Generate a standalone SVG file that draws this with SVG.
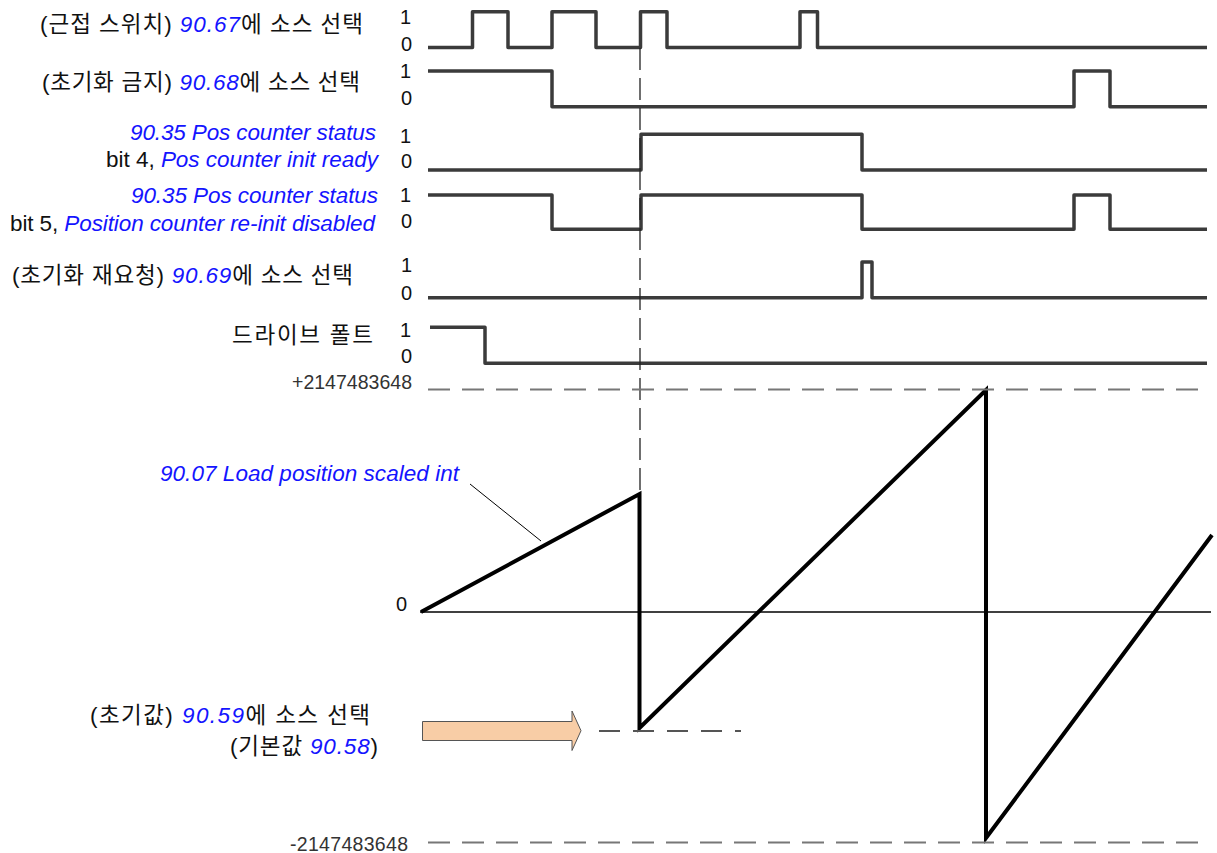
<svg xmlns="http://www.w3.org/2000/svg" width="1217" height="853" viewBox="0 0 1217 853">
<style>
text{font-family:"Liberation Sans","Noto Sans CJK KR",sans-serif;font-size:22.5px;fill:#111}
.b{fill:#1414ff;font-style:italic}
.lv{font-size:20px;fill:#111}
.num{font-size:19.5px;fill:#333}
.wave{fill:none;stroke:#3b3b3b;stroke-width:3.5;stroke-linejoin:round}
.saw{fill:none;stroke:#000;stroke-width:4;stroke-linejoin:miter}
.dash{fill:none;stroke:#777;stroke-width:2;stroke-dasharray:22 12}
</style>
<rect width="1217" height="853" fill="#fff"/>
<g id="sig-proximity">
<text x="40" y="32" textLength="323" lengthAdjust="spacing">(근접 스위치) <tspan class="b">90.67</tspan>에 소스 선택</text>
<text class="lv" x="400" y="24">1</text><text class="lv" x="401" y="51">0</text>
<path class="wave" d="M428,47.5 H472.5 V11.7 H508 V47.5 H552 V11.7 H596 V47.5 H640.5 V11.7 H667 V47.5 H800 V11.7 H817.5 V47.5 H1207"/>
</g>
<g id="sig-inhibit">
<text x="42" y="90" textLength="318" lengthAdjust="spacing">(초기화 금지) <tspan class="b">90.68</tspan>에 소스 선택</text>
<text class="lv" x="400" y="78">1</text><text class="lv" x="401" y="105">0</text>
<path class="wave" d="M428,71 H552 V106.7 H1074 V71 H1110 V106.7 H1207"/>
</g>
<g id="sig-bit4">
<text class="b" x="130" y="140" textLength="246" lengthAdjust="spacing">90.35 Pos counter status</text>
<text x="106" y="167" textLength="272" lengthAdjust="spacing">bit 4, <tspan class="b">Pos counter init ready</tspan></text>
<text class="lv" x="400" y="143">1</text><text class="lv" x="401" y="168">0</text>
<path class="wave" d="M428,170 H641 V134.3 H862 V170 H1207"/>
</g>
<g id="sig-bit5">
<text class="b" x="131" y="203" textLength="247" lengthAdjust="spacing">90.35 Pos counter status</text>
<text x="10" y="231" textLength="365" lengthAdjust="spacing">bit 5, <tspan class="b">Position counter re-init disabled</tspan></text>
<text class="lv" x="400" y="202">1</text><text class="lv" x="401" y="228">0</text>
<path class="wave" d="M428,195 H552 V229.3 H641 V195 H862 V229.3 H1074 V195 H1110 V229.3 H1207"/>
</g>
<g id="sig-reinit">
<text x="12" y="283" textLength="341" lengthAdjust="spacing">(초기화 재요청) <tspan class="b">90.69</tspan>에 소스 선택</text>
<text class="lv" x="401" y="272">1</text><text class="lv" x="401" y="300">0</text>
<path class="wave" d="M428,297.7 H862 V262 H872 V297.7 H1207"/>
</g>
<g id="sig-fault">
<text x="232" y="343" textLength="141" lengthAdjust="spacing">드라이브 폴트</text>
<text class="lv" x="400" y="337">1</text><text class="lv" x="401" y="363">0</text>
<path class="wave" d="M430,327.3 H485 V363.3 H1207"/>
</g>
<g id="position">
<text class="num" x="292" y="389" textLength="120" lengthAdjust="spacing">+2147483648</text>
<text class="num" x="290" y="851" textLength="118" lengthAdjust="spacing">-2147483648</text>
<text class="lv" x="396" y="611">0</text>
<text class="b" x="160" y="481" textLength="299" lengthAdjust="spacing">90.07 Load position scaled int</text>
<line x1="420" y1="612" x2="1211" y2="612" stroke="#000" stroke-width="1.5"/>
<path class="saw" d="M421,612 L639.5,494 L639.5,728 L986,390 L986,838 L1212,535"/>
</g>
<g id="initial">
<text x="90" y="723" textLength="280" lengthAdjust="spacing">(초기값)  <tspan class="b">90.59</tspan>에 소스 선택</text>
<text x="230" y="754" textLength="148" lengthAdjust="spacing">(기본값 <tspan class="b">90.58</tspan>)</text>
<path d="M422.5,721.5 H572 V711 L581,730.7 L572,750.5 V740.5 H422.5 Z" fill="#f8cda6" stroke="#555" stroke-width="1"/>
</g>
<g id="connectors">
<line x1="640" y1="48" x2="640" y2="493" stroke="#222" stroke-width="1.3" stroke-dasharray="22 8"/>
<line class="dash" x1="428" y1="389.5" x2="1206" y2="389.5"/>
<line class="dash" x1="428" y1="842.5" x2="1206" y2="842.5"/>
<line x1="599" y1="731" x2="741" y2="731" stroke="#555" stroke-width="2" stroke-dasharray="21 13"/>
<line x1="470" y1="484" x2="541" y2="541" stroke="#000" stroke-width="1"/>
</g>
</svg>
